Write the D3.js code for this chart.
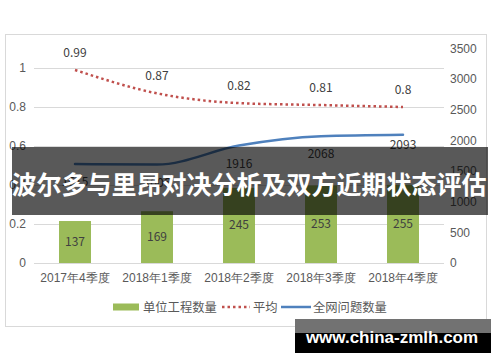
<!DOCTYPE html>
<html>
<head>
    <meta charset="utf-8">
    <title>波尔多与里昂对决分析及双方近期状态评估</title>
    <script src="https://d3js.org/d3.v7.min.js"></script>
    <style>
        body {
            margin: 0;
            background: #fff;
            font-family: "Noto Sans CJK SC", "Noto Sans", sans-serif;
        }
        svg { display: block; }
        .tick-label { font-size: 12px; fill: #595959; }
        .data-label { font-size: 12px; fill: #404040; }
        .legend-text { font-size: 12.3px; fill: #595959; }
    </style>
</head>
<body>
    <div id="chart"></div>
    <script>
        // chart data
        const categories = ['2017年4季度', '2018年1季度', '2018年2季度', '2018年3季度', '2018年4季度'];
        const unitCount = [137, 169, 245, 253, 255];          // 单位工程数量 (bars)
        const average = [0.99, 0.87, 0.82, 0.81, 0.8];        // 平均 (dotted line, left axis)
        const issueCount = [1615, 1606, 1916, 2068, 2093];    // 全网问题数量 (right axis)
        const leftTicks = [0, 0.2, 0.4, 0.6, 0.8, 1];
        const rightTicks = [0, 500, 1000, 1500, 2000, 2500, 3000, 3500];
        const seriesNames = ['单位工程数量', '平均', '全网问题数量'];
        const title = '波尔多与里昂对决分析及双方近期状态评估';
        const watermark = 'www.china-zmlh.com';

        const width = 500;
        const height = 362;
        const plot = { left: 34, right: 444, top: 48.5, bottom: 263 };

        const svg = d3.select('#chart')
            .append('svg')
            .attr('width', width)
            .attr('height', height);

        // chart frame
        svg.append('rect')
            .attr('x', 5.5).attr('y', 34.5)
            .attr('width', 481).attr('height', 292)
            .attr('fill', '#fff')
            .attr('stroke', '#d9d9d9');

        const x = d3.scaleBand()
            .domain(categories)
            .range([plot.left, plot.right])
            .paddingInner(0.61)
            .paddingOuter(0.305);

        const yLeft = d3.scaleLinear().domain([0, 1.1]).range([plot.bottom, plot.top]);
        const yRight = d3.scaleLinear().domain([0, 3500]).range([plot.bottom, plot.top]);
        const yBar = d3.scaleLinear().domain([0, 700]).range([plot.bottom, plot.top]);

        const cx = (d, i) => x(categories[i]) + x.bandwidth() / 2;

        // gridlines
        svg.append('g')
            .selectAll('line')
            .data(leftTicks)
            .join('line')
            .attr('x1', plot.left).attr('x2', plot.right)
            .attr('y1', d => Math.round(yLeft(d)) + 0.5)
            .attr('y2', d => Math.round(yLeft(d)) + 0.5)
            .attr('stroke', '#d9d9d9');

        // left axis
        const leftAxis = svg.append('g')
            .attr('transform', `translate(${plot.left - 8},0)`)
            .call(d3.axisLeft(yLeft).tickValues(leftTicks).tickSize(0).tickPadding(0)
                .tickFormat(d => d3.format('~g')(d)));
        leftAxis.select('.domain').remove();
        leftAxis.selectAll('text')
            .attr('class', 'tick-label')
            .attr('font-family', null);

        // right axis
        const rightAxis = svg.append('g')
            .attr('transform', `translate(${plot.right + 6},0)`)
            .call(d3.axisRight(yRight).tickValues(rightTicks).tickSize(0).tickPadding(0)
                .tickFormat(d3.format('d')));
        rightAxis.select('.domain').remove();
        rightAxis.selectAll('text')
            .attr('class', 'tick-label')
            .attr('font-family', null);

        // category axis
        const bottomAxis = svg.append('g')
            .attr('transform', `translate(0,${plot.bottom})`)
            .call(d3.axisBottom(x).tickSize(0).tickPadding(10));
        bottomAxis.select('.domain')
            .attr('stroke', '#d9d9d9')
            .attr('d', `M${plot.left},0.5H${plot.right}`);
        bottomAxis.selectAll('text')
            .attr('class', 'tick-label')
            .attr('font-family', null);

        // bars
        svg.append('g')
            .selectAll('rect')
            .data(unitCount)
            .join('rect')
            .attr('x', (d, i) => x(categories[i]))
            .attr('y', d => yBar(d))
            .attr('width', x.bandwidth())
            .attr('height', d => plot.bottom - yBar(d))
            .attr('fill', '#9bbb59');

        svg.append('g')
            .selectAll('text')
            .data(unitCount)
            .join('text')
            .attr('class', 'data-label')
            .attr('x', cx)
            .attr('y', d => (yBar(d) + plot.bottom) / 2 + 4)
            .attr('text-anchor', 'middle')
            .text(d => d);

        // average line (dotted)
        const avgLine = d3.line()
            .x(cx)
            .y(d => yLeft(d))
            .curve(d3.curveMonotoneX);

        svg.append('path')
            .datum(average)
            .attr('d', avgLine)
            .attr('fill', 'none')
            .attr('stroke', '#c0504d')
            .attr('stroke-width', 2.5)
            .attr('stroke-dasharray', '2.5,3');

        svg.append('g')
            .selectAll('text')
            .data(average)
            .join('text')
            .attr('class', 'data-label')
            .attr('x', cx)
            .attr('y', d => yLeft(d) - 13)
            .attr('text-anchor', 'middle')
            .text(d => d);

        // issue count line
        const issueLine = d3.line()
            .x(cx)
            .y(d => yRight(d))
            .curve(d3.curveMonotoneX);

        svg.append('path')
            .datum(issueCount)
            .attr('d', issueLine)
            .attr('fill', 'none')
            .attr('stroke', '#4f81bd')
            .attr('stroke-width', 2.5)
            .attr('stroke-linecap', 'round');

        svg.append('g')
            .selectAll('text')
            .data(issueCount)
            .join('text')
            .attr('class', 'data-label')
            .attr('x', cx)
            .attr('y', (d, i) => yRight(d) + (i === issueCount.length - 1 ? 14 : 22))
            .attr('text-anchor', 'middle')
            .text(d => d);

        // legend
        const legend = svg.append('g').attr('transform', 'translate(0,307)');
        legend.append('rect')
            .attr('x', 113).attr('y', -3.5)
            .attr('width', 26).attr('height', 7)
            .attr('fill', '#9bbb59');
        legend.append('line')
            .attr('x1', 222).attr('x2', 250)
            .attr('stroke', '#c0504d')
            .attr('stroke-width', 2.5)
            .attr('stroke-dasharray', '2.5,3');
        legend.append('line')
            .attr('x1', 281).attr('x2', 311)
            .attr('stroke', '#4f81bd')
            .attr('stroke-width', 2.5);
        legend.selectAll('text')
            .data(seriesNames)
            .join('text')
            .attr('class', 'legend-text')
            .attr('x', (d, i) => [143, 253, 313][i])
            .attr('y', 4.5)
            .text(d => d);

        // title banner over the chart
        svg.append('rect')
            .attr('x', 12).attr('y', 147)
            .attr('width', 476).attr('height', 68)
            .attr('fill', 'rgba(0,0,0,0.65)');
        svg.append('text')
            .attr('x', 249).attr('y', 194)
            .attr('text-anchor', 'middle')
            .attr('fill', '#fff')
            .attr('font-size', 25)
            .attr('font-weight', 'bold')
            .text(title);

        // watermark box
        svg.append('rect')
            .attr('x', 295).attr('y', 319)
            .attr('width', 196).attr('height', 34)
            .attr('fill', '#000');
        svg.append('rect')
            .attr('x', 295).attr('y', 319)
            .attr('width', 196).attr('height', 14)
            .attr('fill', '#727272');
        svg.append('text')
            .attr('x', 392).attr('y', 343)
            .attr('text-anchor', 'middle')
            .attr('fill', '#fff')
            .attr('font-family', '"Liberation Sans", Arial, sans-serif')
            .attr('font-size', 17)
            .attr('font-weight', 'bold')
            .text(watermark);
    </script>
</body>
</html>
